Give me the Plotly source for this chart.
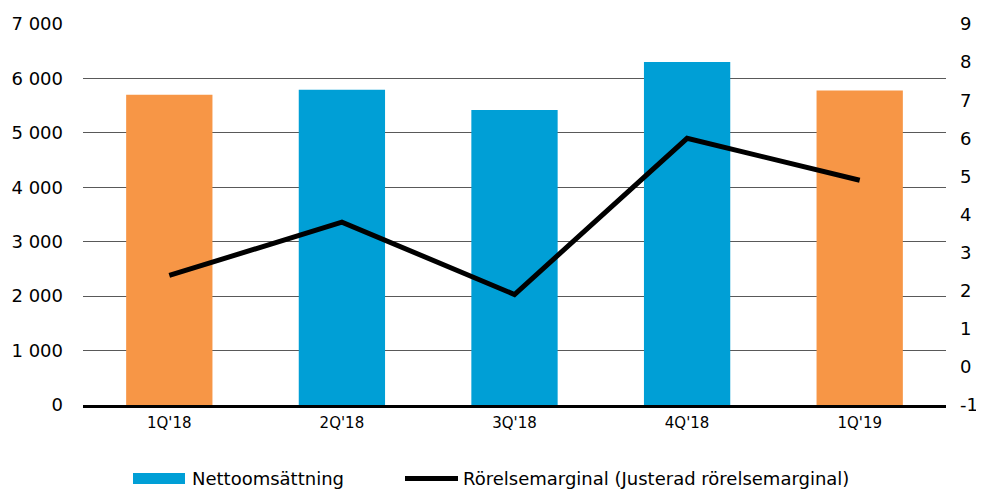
import plotly.graph_objects as go

categories = ["1Q'18", "2Q'18", "3Q'18", "4Q'18", "1Q'19"]
net_sales = [5700, 5790, 5420, 6300, 5780]
bar_colors = ["#F79646", "#009FD6", "#009FD6", "#009FD6", "#F79646"]
margin_pct = [2.4, 3.8, 1.9, 6.0, 4.9]

left_tickvals = [0, 1000, 2000, 3000, 4000, 5000, 6000, 7000]
left_ticktext = ["0", "1 000", "2 000", "3 000", "4 000", "5 000", "6 000", "7 000"]
right_tickvals = [-1, 0, 1, 2, 3, 4, 5, 6, 7, 8, 9]
right_ticktext = ["-1", "0", "1", "2", "3", "4", "5", "6", "7", "8", "9"]

legend_bar_label = "Nettoomsättning"
legend_line_label = "Rörelsemarginal (Justerad rörelsemarginal)"

FONT = "DejaVu Sans, Verdana, sans-serif"

fig = go.Figure()
fig.add_trace(go.Bar(x=categories, y=net_sales, marker=dict(color=bar_colors, line=dict(width=0)),
                     width=0.5, showlegend=False, yaxis="y"))
fig.add_trace(go.Scatter(x=categories, y=margin_pct, mode="lines",
                         line=dict(color="#000000", width=5), showlegend=False, yaxis="y2"))

# page is offset by the 8px body margin
OFF = 8
W, H = 984, 490
ml, mt = 83 - OFF, 24 - OFF
pw, ph = 863, 381
mr = W - ml - pw
mb = H - mt - ph

def px_x(x):
    return (x - OFF - ml) / pw

def px_y(y):
    return (mt + ph - (y - OFF)) / ph

shapes = [
    dict(type="rect", xref="paper", yref="paper", x0=px_x(133), x1=px_x(185),
         y0=px_y(484), y1=px_y(473), fillcolor="#009FD6", line=dict(width=0)),
    dict(type="line", xref="paper", yref="paper", x0=px_x(405), x1=px_x(458),
         y0=px_y(478.5), y1=px_y(478.5), line=dict(color="#000000", width=5)),
]
annotations = [
    dict(xref="paper", yref="paper", x=px_x(190), y=px_y(478), text=legend_bar_label,
         showarrow=False, xanchor="left", yanchor="middle", font=dict(size=18, color="#000000", family=FONT)),
    dict(xref="paper", yref="paper", x=px_x(461), y=px_y(478), text=legend_line_label,
         showarrow=False, xanchor="left", yanchor="middle", font=dict(size=18, color="#000000", family=FONT)),
]

fig.update_layout(
    width=W, height=H,
    margin=dict(l=ml, r=mr, t=mt, b=mb, autoexpand=False),
    paper_bgcolor="white", plot_bgcolor="white",
    font=dict(family=FONT, color="#000000"),
    bargap=0.5,
    xaxis=dict(type="category", showgrid=False, showline=True, linecolor="#000000", linewidth=3,
               ticks="", tickfont=dict(size=15), zeroline=False, ticklabelstandoff=2),
    yaxis=dict(range=[0, 7000], tickvals=left_tickvals, ticktext=left_ticktext,
               showgrid=True, gridcolor="#595959", gridwidth=1, zeroline=False, showline=False,
               ticks="", tickfont=dict(size=18), ticklabelstandoff=19),
    yaxis2=dict(range=[-1, 9], tickvals=right_tickvals, ticktext=right_ticktext, overlaying="y",
                side="right", showgrid=False, zeroline=False, showline=False, ticks="",
                tickfont=dict(size=18), ticklabelstandoff=13),
    shapes=shapes,
    annotations=annotations,
    showlegend=False,
)

fig.write_html("out.html")
